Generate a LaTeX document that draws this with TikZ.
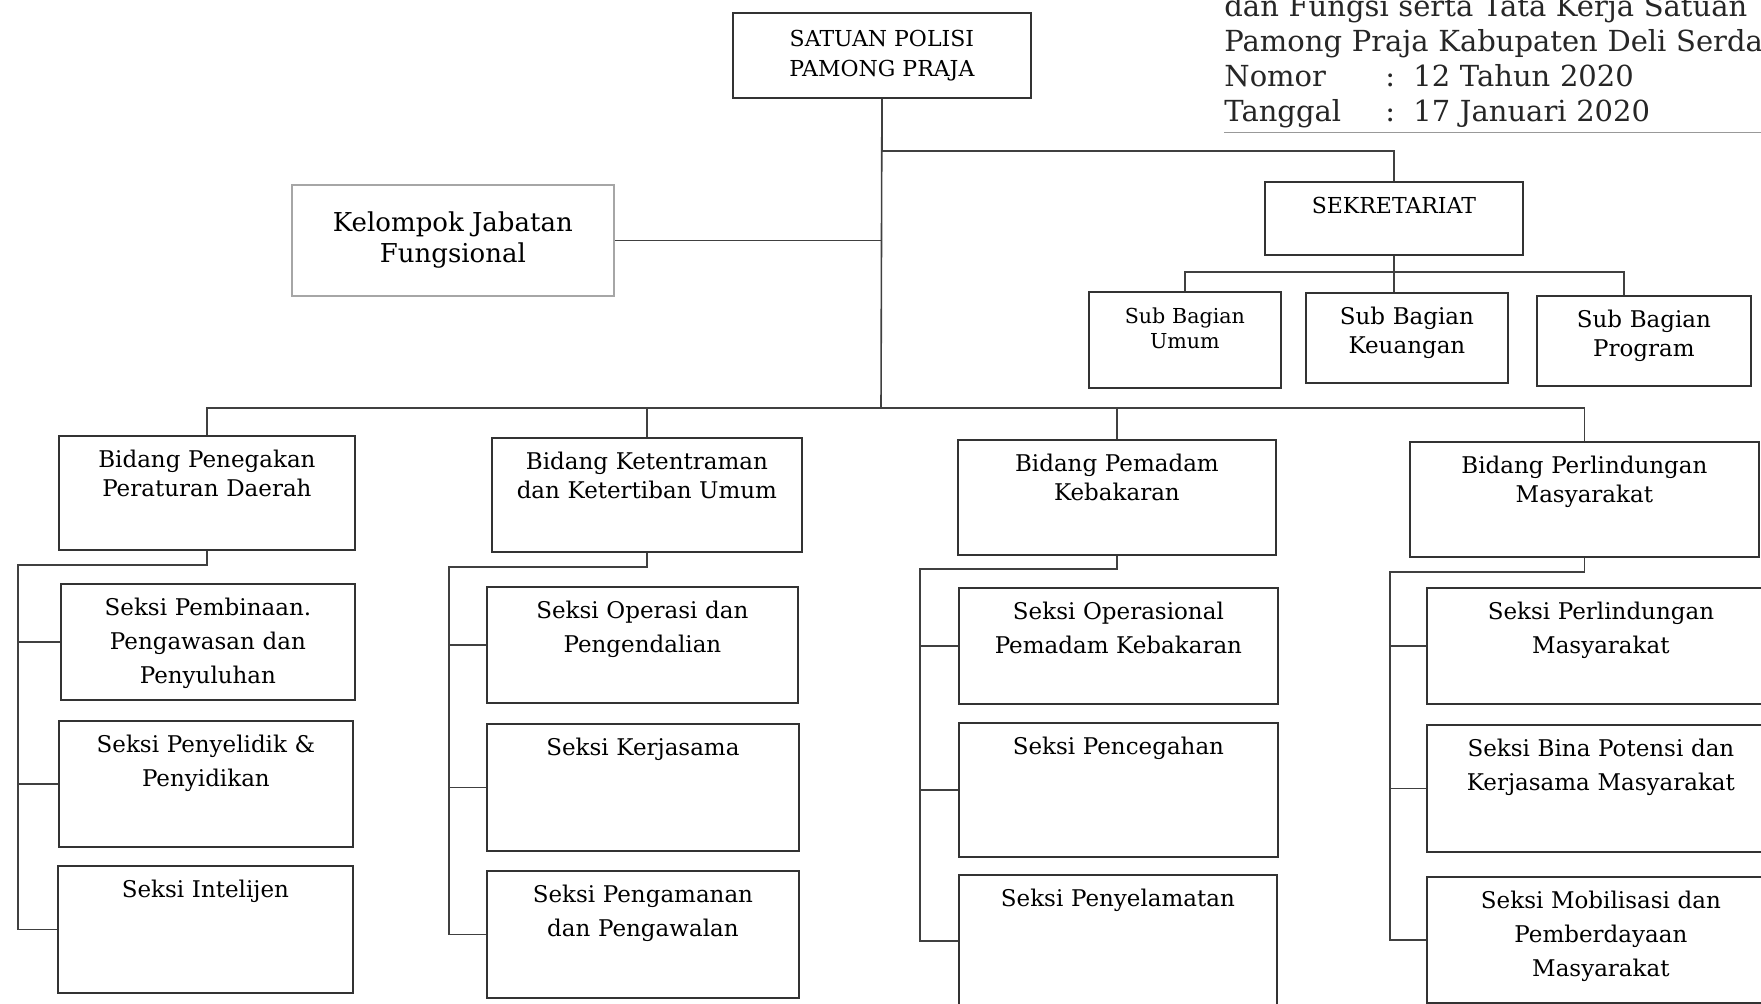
\documentclass[tikz,border=0pt]{standalone}
\usepackage{fontspec}
\setmainfont{DejaVu Serif}
\usepackage{tikz}
\newcommand{\unitfont}{\fontsize{11}{15}\selectfont}
\newcommand{\kjffont}{\fontsize{13}{15.5}\selectfont}
\newcommand{\subbagfont}{\fontsize{11.5}{14.5}\selectfont}
\newcommand{\bidfont}{\fontsize{11.5}{14.5}\selectfont}
\newcommand{\seksifont}{\fontsize{11.5}{17}\selectfont}
\newcommand{\hdrfont}{\fontsize{14.5}{17.5}\selectfont}
\tikzstyle{headbox} = [draw=black!80, line width=0.9pt, rectangle,
    anchor=north west, align=center]
\tikzstyle{orgbox} = [draw=black!80, line width=0.9pt, rectangle,
    anchor=north west, align=center, inner xsep=2pt, inner ysep=5pt, text height=11pt]
\tikzstyle{link} = [draw=black!75, line width=0.8pt]
\tikzstyle{hdr} = [anchor=base west, inner sep=0pt, text width=420pt, align=left,
    font=\hdrfont, text=black!85]

\begin{document}
\begin{tikzpicture}[x=0.5pt, y=-0.5pt]
\path[fill=white, use as bounding box] (0,0) rectangle (1761,1004);
\clip (0,0) rectangle (1761,1004);

% kop lampiran
\node[hdr] (lamp) at (1224,17) {\makebox[272pt][s]{dan Fungsi serta Tata Kerja Satuan}\\
    Pamong Praja Kabupaten Deli Serdang\\
    \makebox[80.5pt][l]{Nomor}\makebox[14pt][l]{:}12 Tahun 2020\\
    \makebox[80.5pt][l]{Tanggal}\makebox[14pt][l]{:}17 Januari 2020};
\draw[black!40, line width=0.6pt] ([yshift=-2pt]lamp.south west) -- ([yshift=-2pt]lamp.south east);

% pimpinan, sekretariat, kelompok jabatan
\node[headbox, minimum width=149pt, minimum height=42.5pt, font=\unitfont] (satpol) at (732,12) {SATUAN POLISI\\PAMONG PRAJA};
\node[headbox, draw=black!35, minimum width=161pt, minimum height=55.5pt, font=\kjffont] (kjf) at (291,184) {Kelompok Jabatan\\Fungsional};
\node[orgbox, minimum width=129pt, text width=120pt, text depth=15.5pt, font=\unitfont] (sek) at (1264,181) {SEKRETARIAT};
\node[orgbox, minimum width=96pt, text width=90pt, text depth=27pt, font=\fontsize{10.3}{12.5}\selectfont] (umum) at (1088,291) {Sub Bagian\\Umum};
\node[orgbox, minimum width=101pt, text width=95pt, text depth=24pt, font=\subbagfont] (keu) at (1305,292) {Sub Bagian\\Keuangan};
\node[orgbox, minimum width=107pt, text width=100pt, text depth=24pt, font=\subbagfont] (prog) at (1536,295) {Sub Bagian\\Program};

% bidang
\node[orgbox, minimum width=148pt, text width=142pt, text depth=36pt, font=\bidfont] (b1) at (58,435) {Bidang Penegakan\\Peraturan Daerah};
\node[orgbox, minimum width=155pt, text width=149pt, text depth=36pt, font=\bidfont] (b2) at (491,437) {Bidang Ketentraman\\dan Ketertiban Umum};
\node[orgbox, minimum width=159pt, text width=153pt, text depth=36.5pt, font=\bidfont] (b3) at (957,439) {Bidang Pemadam\\Kebakaran};
\node[orgbox, minimum width=174.5pt, text width=168pt, text depth=36.5pt, font=\bidfont] (b4) at (1409,441) {Bidang Perlindungan\\Masyarakat};

% seksi
\node[orgbox, minimum width=147pt, text width=141pt, text depth=37pt, font=\seksifont] (s11) at (60,583) {Seksi Pembinaan.\\Pengawasan dan\\Penyuluhan};
\node[orgbox, minimum width=147pt, text width=141pt, text depth=42pt, font=\seksifont] (s12) at (58,720) {Seksi Penyelidik \&\\Penyidikan};
\node[orgbox, minimum width=147.5pt, text width=141pt, text depth=42.5pt, font=\seksifont] (s13) at (57,865) {Seksi Intelijen};
\node[orgbox, minimum width=155.5pt, text width=149pt, text depth=37pt, font=\seksifont] (s21) at (486,586) {Seksi Operasi dan\\Pengendalian};
\node[orgbox, minimum width=156pt, text width=149pt, text depth=42.5pt, font=\seksifont] (s22) at (486,723) {Seksi Kerjasama};
\node[orgbox, minimum width=156pt, text width=149pt, text depth=42.5pt, font=\seksifont] (s23) at (486,870) {Seksi Pengamanan\\dan Pengawalan};
\node[orgbox, minimum width=159.5pt, text width=153pt, text depth=37pt, font=\seksifont] (s31) at (958,587) {Seksi Operasional\\Pemadam Kebakaran};
\node[orgbox, minimum width=159.5pt, text width=153pt, text depth=46pt, font=\seksifont] (s32) at (958,722) {Seksi Pencegahan};
\node[orgbox, minimum width=159pt, text width=153pt, text depth=45pt, font=\seksifont] (s33) at (958,874) {Seksi Penyelamatan};
\node[orgbox, minimum width=174pt, text width=168pt, text depth=37pt, font=\seksifont] (s41) at (1426,587) {Seksi Perlindungan\\Masyarakat};
\node[orgbox, minimum width=174pt, text width=168pt, text depth=42.5pt, font=\seksifont] (s42) at (1426,724) {Seksi Bina Potensi dan\\Kerjasama Masyarakat};
\node[orgbox, minimum width=174pt, text width=168pt, text depth=42pt, font=\seksifont] (s43) at (1426,876) {Seksi Mobilisasi dan\\Pemberdayaan\\Masyarakat};

% garis komando
\coordinate (bus) at (881,408);
\coordinate (subbus) at (1393,272);
\coordinate (rail1) at (18,565);
\coordinate (rail2) at (449,567);
\coordinate (rail3) at (920,569);
\coordinate (rail4) at (1390,572);
\draw[link] (satpol.south) -- ++(0,52) -| (sek.north);
\draw[link] (satpol.south) -- (bus);
\draw[link] (kjf.east) -- (kjf.east -| bus);
\draw[link] (b1.north) |- (bus) -| (b4.north);
\draw[link] (b2.north) -- (b2.north |- bus);
\draw[link] (b3.north) -- (b3.north |- bus);
\draw[link] (sek.south) -- (sek.south |- keu.north);
\draw[link] (umum.north) |- (subbus) -| ([xshift=-10pt]prog.north);
\foreach \g in {1,...,4}{
    \draw[link] (b\g.south) |- (rail\g) |- (s\g3.west);
    \foreach \s in {1,2}
        \draw[link] (s\g\s.west) -- (s\g\s.west -| rail\g);
}
\end{tikzpicture}
\end{document}
